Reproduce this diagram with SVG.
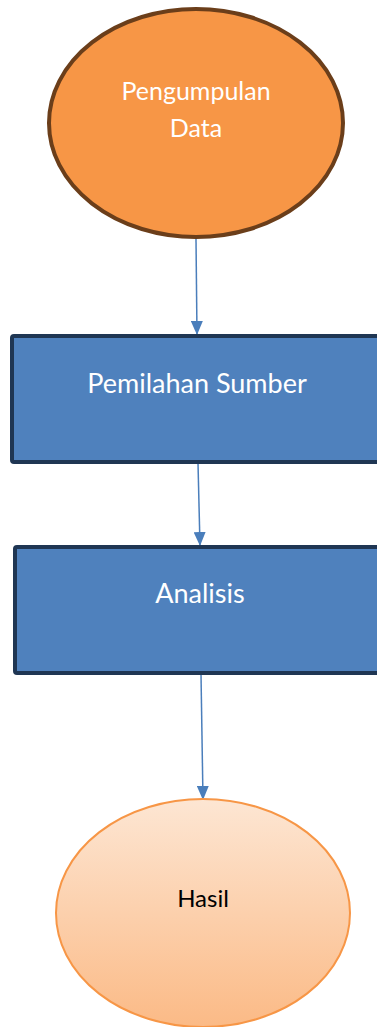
<svg xmlns="http://www.w3.org/2000/svg" width="377" height="1027" viewBox="0 0 377 1027">
<style>
.lbl{font-family:Lato,"Open Sans","Liberation Sans",sans-serif;text-anchor:middle}
.w{fill:#ffffff}
.box{fill:#4f81bd;stroke:#1f3653;stroke-width:4}
.conn{stroke:#4a7ebb;stroke-width:1.5;fill:none}
</style>
<defs>
<marker id="ah" markerWidth="14" markerHeight="12" refX="14" refY="6" orient="auto" markerUnits="userSpaceOnUse" viewBox="0 0 14 12">
<path d="M0,0 L14,6 L0,12 z" fill="#4a7ebb"/>
</marker>
<linearGradient id="hg" x1="0" y1="0" x2="0" y2="1">
<stop offset="0" stop-color="#fde6d3"/>
<stop offset="1" stop-color="#fbba86"/>
</linearGradient>
</defs>
<g id="connectors">
<line class="conn" x1="196" y1="239" x2="197" y2="335" marker-end="url(#ah)"/>
<line class="conn" x1="198" y1="463" x2="200" y2="546" marker-end="url(#ah)"/>
<line class="conn" x1="201" y1="674" x2="203" y2="800" marker-end="url(#ah)"/>
</g>
<g id="pengumpulan">
<ellipse cx="196" cy="123" rx="147" ry="114" fill="#f79646" stroke="#6b3e1a" stroke-width="4"/>
<text class="lbl w" x="196" y="100" font-size="25">Pengumpulan</text>
<text class="lbl w" x="196" y="137" font-size="25">Data</text>
</g>
<g id="pemilahan">
<rect class="box" x="12" y="336" width="380" height="126" rx="2"/>
<text class="lbl w" x="197" y="393" font-size="27">Pemilahan Sumber</text>
</g>
<g id="analisis">
<rect class="box" x="15" y="547" width="380" height="126" rx="2"/>
<text class="lbl w" x="200" y="603" font-size="27">Analisis</text>
</g>
<g id="hasil">
<ellipse cx="203" cy="913" rx="147" ry="114" fill="url(#hg)" stroke="#f79646" stroke-width="2"/>
<text class="lbl" x="203" y="907" font-size="24" fill="#000000">Hasil</text>
</g>
</svg>
